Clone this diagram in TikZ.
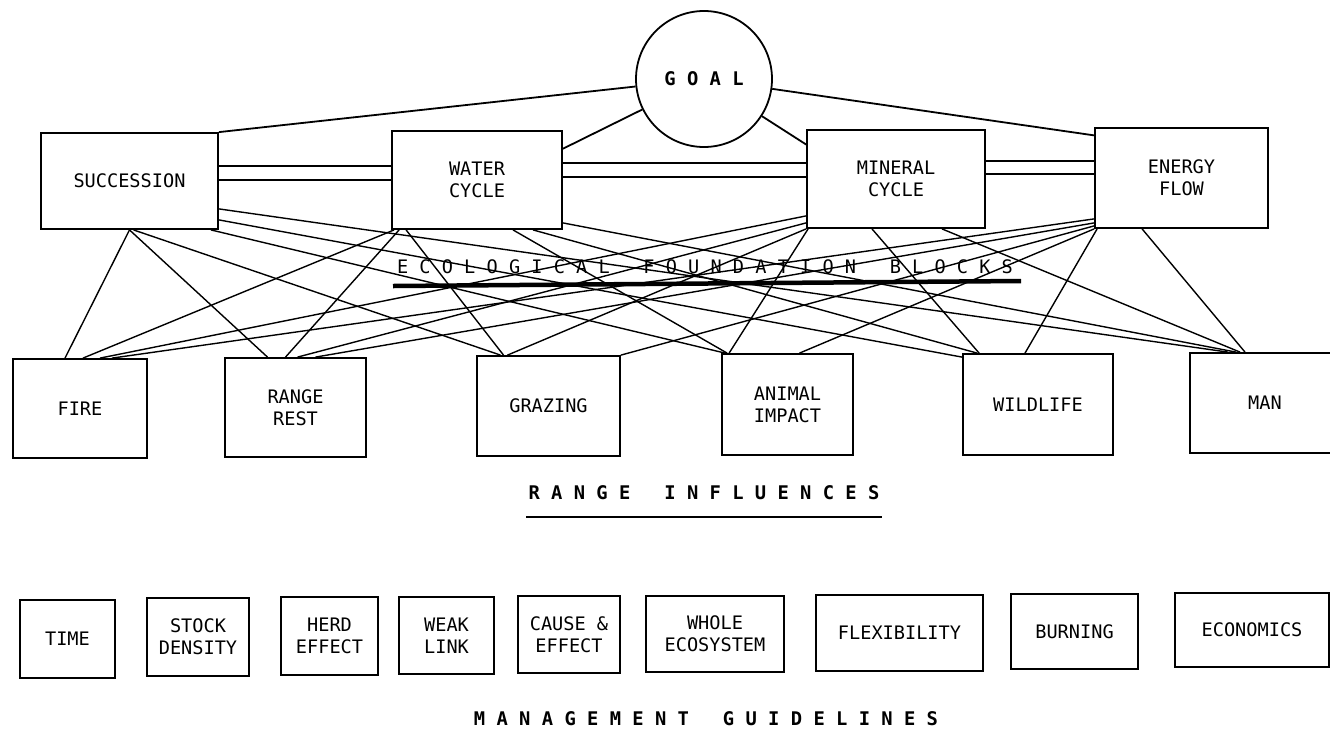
\documentclass[tikz,border=0pt]{standalone}
\usepackage{fontspec}
\newfontfamily\plotfont{DejaVu Sans Mono}
\begin{document}
\begin{tikzpicture}[x=1pt, y=-1pt,
      every node/.style = {font=\plotfont\fontsize{18.6}{22}\selectfont, align=center},
      block/.style = {shape=rectangle, draw, line width=1.8pt, inner sep=0pt},
      heading/.style = {font=\plotfont\bfseries\fontsize{18.8}{22}\selectfont},
      link/.style = {line width=1.4pt}]
  \useasboundingbox (0,0) rectangle (1330,732);
  \node[heading, circle, draw, line width=1.8pt, minimum size=136pt, inner sep=0pt] (goal) at (704,79) {G~O~A~L};
  \node[block, minimum width=177pt, minimum height=96pt] (succ) at (129.5,181) {SUCCESSION};
  \node[block, minimum width=170pt, minimum height=98pt] (water) at (477,180) {WATER\\CYCLE};
  \node[block, minimum width=178pt, minimum height=98pt] (mineral) at (896,179) {MINERAL\\CYCLE};
  \node[block, minimum width=173pt, minimum height=100pt] (energy) at (1181.5,178) {ENERGY\\FLOW};
  \node[block, minimum width=134pt, minimum height=99pt] (fire) at (80,408.5) {FIRE};
  \node[block, minimum width=141pt, minimum height=99pt] (rest) at (295.5,407.5) {RANGE\\REST};
  \node[block, minimum width=143pt, minimum height=100pt] (grazing) at (548.5,406) {GRAZING};
  \node[block, minimum width=131pt, minimum height=101pt] (animal) at (787.5,404.5) {ANIMAL\\IMPACT};
  \node[block, minimum width=150pt, minimum height=101pt] (wildlife) at (1038,404.5) {WILDLIFE};
  \node[block, minimum width=150pt, minimum height=100pt] (man) at (1265,403) {MAN};
  \node[block, minimum width=95pt, minimum height=78pt] (time) at (67.5,639) {TIME};
  \node[block, minimum width=102pt, minimum height=78pt] (stock) at (198,637) {STOCK\\DENSITY};
  \node[block, minimum width=97pt, minimum height=78pt] (herd) at (329.5,636) {HERD\\EFFECT};
  \node[block, minimum width=95pt, minimum height=77pt] (weak) at (446.5,635.5) {WEAK\\LINK};
  \node[block, minimum width=102pt, minimum height=77pt] (cause) at (569,634.5) {CAUSE \&\\EFFECT};
  \node[block, minimum width=138pt, minimum height=76pt] (whole) at (715,634) {WHOLE\\ECOSYSTEM};
  \node[block, minimum width=167pt, minimum height=76pt] (flex) at (899.5,633) {FLEXIBILITY};
  \node[block, minimum width=127pt, minimum height=75pt] (burning) at (1074.5,631.5) {BURNING};
  \node[block, minimum width=154pt, minimum height=74pt] (econ) at (1252,630) {ECONOMICS};
  \node (ecotitle) at (705,267) {E~C~O~L~O~G~I~C~A~L~~~F~O~U~N~D~A~T~I~O~N~~~B~L~O~C~K~S};
  \draw[line width=4.5pt] (393,286) -- (1021,281);
  \node[heading] (rangetitle) at (704,493) {R~A~N~G~E~~~I~N~F~L~U~E~N~C~E~S};
  \draw[line width=2.5pt] (526,517) -- (882,517);
  \node[heading] (mgmttitle) at (706,719) {M~A~N~A~G~E~M~E~N~T~~~G~U~I~D~E~L~I~N~E~S};
  \draw[link, line width=1.8pt] (goal) -- (succ.north east);
  \draw[link, line width=1.8pt] (goal) -- (water.20);
  \draw[link, line width=1.8pt] (goal) -- (mineral.159);
  \draw[link, line width=1.8pt] (goal) -- (energy.154);
  \draw[link, line width=1.8pt] ([yshift=15pt]succ.east) -- ([yshift=14pt]water.west);
  \draw[link, line width=1.8pt] ([yshift=1pt]succ.east) -- (water.west);
  \draw[link, line width=1.8pt] ([yshift=17pt]water.east) -- ([yshift=16pt]mineral.west);
  \draw[link, line width=1.8pt] ([yshift=3pt]water.east) -- ([yshift=2pt]mineral.west);
  \draw[link, line width=1.8pt] ([yshift=18pt]mineral.east) -- ([yshift=17pt]energy.west);
  \draw[link, line width=1.8pt] ([yshift=5pt]mineral.east) -- ([yshift=4pt]energy.west);
  \draw[link] (succ.south) -- ([xshift=-15pt]fire.north);
  \draw[link] (succ.south) -- ([xshift=-28pt]rest.north);
  \draw[link] ([xshift=4pt]succ.south) -- ([xshift=-48pt]grazing.north);
  \draw[link] ([xshift=-8pt]succ.south east) -- ([xshift=4pt]animal.north west);
  \draw[link] ([yshift=10pt]succ.south east) -- ([yshift=-4pt]wildlife.north west);
  \draw[link] ([yshift=21pt]succ.south east) -- ([xshift=-37pt]man.north);
  \draw[link] ([xshift=3pt]water.south west) -- ([xshift=3pt]fire.north);
  \draw[link] ([xshift=8pt]water.south west) -- ([xshift=-10pt]rest.north);
  \draw[link] ([xshift=15pt]water.south west) -- ([xshift=-45pt]grazing.north);
  \draw[link] ([xshift=36pt]water.south) -- ([xshift=6pt]animal.north west);
  \draw[link] ([xshift=56pt]water.south) -- ([xshift=15pt]wildlife.north west);
  \draw[link] ([yshift=7pt]water.south east) -- ([xshift=-29pt]man.north);
  \draw[link] ([yshift=13pt]mineral.south west) -- ([xshift=20pt]fire.north);
  \draw[link] ([yshift=6pt]mineral.south west) -- ([xshift=2pt]rest.north);
  \draw[link] (mineral.south west) -- ([xshift=-41pt]grazing.north);
  \draw[link] ([xshift=2pt]mineral.south west) -- ([xshift=8pt]animal.north west);
  \draw[link] ([xshift=-24pt]mineral.south) -- ([xshift=17pt]wildlife.north west);
  \draw[link] ([xshift=46pt]mineral.south) -- ([xshift=-25pt]man.north);
  \draw[link] ([yshift=10pt]energy.south west) -- ([xshift=32pt]fire.north);
  \draw[link] ([yshift=6pt]energy.south west) -- ([xshift=20pt]rest.north);
  \draw[link] ([yshift=3pt]energy.south west) -- (grazing.north east);
  \draw[link] (energy.south west) -- ([xshift=12pt]animal.north);
  \draw[link] ([xshift=3pt]energy.south west) -- ([xshift=-13pt]wildlife.north);
  \draw[link] ([xshift=48pt]energy.south west) -- ([xshift=-20pt]man.north);
\end{tikzpicture}
\end{document}
